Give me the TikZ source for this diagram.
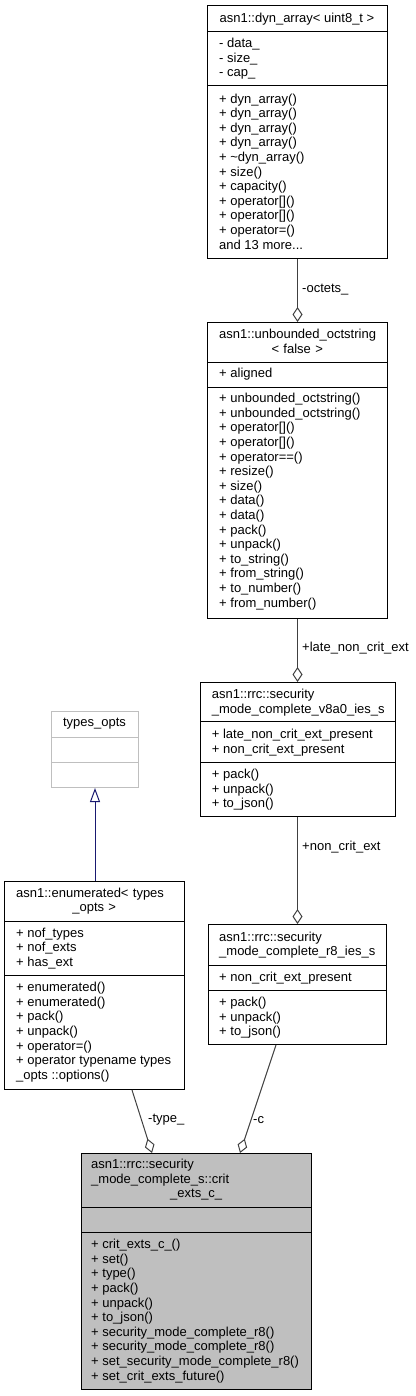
\documentclass[tikz,border=0pt]{standalone}
\usepackage{fontspec}
\setmainfont{Liberation Sans}
\usetikzlibrary{arrows.meta,calc}
\definecolor{edgegray}{HTML}{404040}
\definecolor{navyblue}{HTML}{191970}
\definecolor{boxgray}{HTML}{BFBFBF}
\definecolor{lightborder}{HTML}{BFBFBF}
\newcommand\dfont{\fontsize{13}{14.6}\selectfont}
\tikzset{
  cls/.style={draw=black, line width=1pt, fill=white, inner sep=0pt, anchor=north west},
  txt/.style={anchor=north west, inner sep=0pt, align=left, font=\dfont},
  ctitle/.style={anchor=north, inner sep=0pt, align=center, font=\dfont},
  lbl/.style={anchor=west, inner sep=0pt, font=\dfont},
  sep/.style={draw=black, line width=1pt},
  agg/.style={draw=edgegray, line width=1pt, -{Diamond[open,length=15pt,width=10pt]}},
  inh/.style={draw=navyblue, line width=1pt, -{Triangle[open,length=14pt,width=10pt]}},
}
\begin{document}
\begin{tikzpicture}[x=1pt,y=-1pt]
\useasboundingbox (0,0) rectangle (415,1396);

% ---------- dyn_array ----------
\node[cls, minimum width=180pt, minimum height=253pt] (dyn) at (207,5) {};
\draw[sep] (207,32) -- (387,32);
\draw[sep] (207,86) -- (387,86);
\node[ctitle] (dynT) at (297,13.1) {asn1::dyn\_array< uint8\_t >};
\node[txt] (dynA) at (219,38.1) {- data\_\\- size\_\\- cap\_};
\node[txt] (dynM) at (219,93.5) {+ dyn\_array()\\+ dyn\_array()\\+ dyn\_array()\\+ dyn\_array()\\+ \textasciitilde dyn\_array()\\+ size()\\+ capacity()\\+ operator[]()\\+ operator[]()\\+ operator=()\\and 13 more...};

% ---------- unbounded_octstring ----------
\node[cls, minimum width=180pt, minimum height=296pt] (oct) at (207,322) {};
\draw[sep] (207,362) -- (387,362);
\draw[sep] (207,387) -- (387,387);
\node[txt, text width=156pt] (octT) at (219,329.1) {asn1::unbounded\_octstring\\\makebox[\linewidth]{< false >}};
\node[txt] (octA) at (219,368.1) {+ aligned};
\node[txt] (octM) at (219,393.1) {+ unbounded\_octstring()\\+ unbounded\_octstring()\\+ operator[]()\\+ operator[]()\\+ operator==()\\+ resize()\\+ size()\\+ data()\\+ data()\\+ pack()\\+ unpack()\\+ to\_string()\\+ from\_string()\\+ to\_number()\\+ from\_number()};

% ---------- v8a0 ----------
\node[cls, minimum width=195pt, minimum height=134pt] (v8a0) at (200,682) {};
\draw[sep] (200,721) -- (395,721);
\draw[sep] (200,762) -- (395,762);
\node[txt] (v8a0T) at (211.7,689.1) {asn1::rrc::security\\\_mode\_complete\_v8a0\_ies\_s};
\node[txt] (v8a0A) at (211.7,729.1) {+ late\_non\_crit\_ext\_present\\+ non\_crit\_ext\_present};
\node[txt] (v8a0M) at (211.7,769.1) {+ pack()\\+ unpack()\\+ to\_json()};

% ---------- types_opts ----------
\node[cls, draw=lightborder, minimum width=87pt, minimum height=76pt] (types) at (51,711) {};
\draw[draw=lightborder, line width=1pt] (51,737) -- (138,737);
\draw[draw=lightborder, line width=1pt] (51,762) -- (138,762);
\node[ctitle] (typesT) at (94.5,717.5) {types\_opts};

% ---------- enumerated ----------
\node[cls, minimum width=180pt, minimum height=208pt] (enum) at (4,881) {};
\draw[sep] (4,921) -- (184,921);
\draw[sep] (4,975) -- (184,975);
\node[txt, text width=156pt] (enumT) at (16,887.5) {asn1::enumerated< types\\\makebox[\linewidth]{\_opts >}};
\node[txt] (enumA) at (16,927.5) {+ nof\_types\\+ nof\_exts\\+ has\_ext};
\node[txt] (enumM) at (16,982.1) {+ enumerated()\\+ enumerated()\\+ pack()\\+ unpack()\\+ operator=()\\+ operator typename types\\\_opts ::options()};

% ---------- r8 ----------
\node[cls, minimum width=178pt, minimum height=120pt] (r8) at (208,924) {};
\draw[sep] (208,965) -- (386,965);
\draw[sep] (208,990) -- (386,990);
\node[txt] (r8T) at (219,931.5) {asn1::rrc::security\\\_mode\_complete\_r8\_ies\_s};
\node[txt] (r8A) at (219,971.5) {+ non\_crit\_ext\_present};
\node[txt] (r8M) at (219,996.8) {+ pack()\\+ unpack()\\+ to\_json()};

% ---------- main ----------
\node[cls, fill=boxgray, minimum width=230pt, minimum height=236pt] (main) at (81,1153) {};
\draw[sep] (81,1207) -- (311,1207);
\draw[sep] (81,1232) -- (311,1232);
\node[txt, text width=210pt] (mainT) at (91,1159.1) {asn1::rrc::security\\\_mode\_complete\_s::crit\\\makebox[\linewidth]{\_exts\_c\_}};
\node[txt] (mainM) at (91,1239.1) {+ crit\_exts\_c\_()\\+ set()\\+ type()\\+ pack()\\+ unpack()\\+ to\_json()\\+ security\_mode\_complete\_r8()\\+ security\_mode\_complete\_r8()\\+ set\_security\_mode\_complete\_r8()\\+ set\_crit\_exts\_future()};

% ---------- connectors ----------
\draw[agg] (dyn.south) -- (oct.north);
\node[lbl] (l1) at (302,290) {-octets\_};
\draw[agg] (oct.south) -- (oct.south |- v8a0.north);
\node[lbl] (l2) at (302,648) {+late\_non\_crit\_ext};
\draw[agg] (oct.south |- v8a0.south) -- (oct.south |- r8.north);
\node[lbl] (l3) at (302,847) {+non\_crit\_ext};
\draw[inh] (enum.north -| types.south) -- (types.south);
\draw[agg] ([xshift=128pt]enum.south west) -- ([xshift=71pt]main.north west);
\node[lbl] (l4) at (148,1120) {-type\_};
\draw[agg] ([xshift=68pt]r8.south west) -- ([xshift=159pt]main.north west);
\node[lbl] (l5) at (253,1120) {-c};
\end{tikzpicture}
\end{document}
